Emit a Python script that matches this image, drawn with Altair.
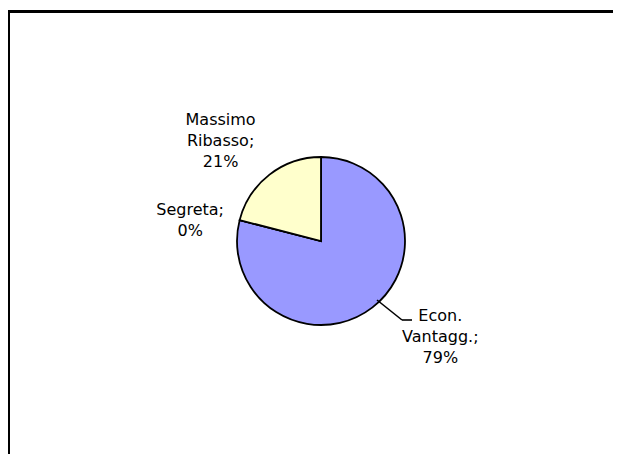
import altair as alt
import pandas as pd

# ---- data ----
categories = ["Econ. Vantagg.", "Segreta", "Massimo Ribasso"]
label_names = ["Econ.\nVantagg.;", "Segreta;", "Massimo\nRibasso;"]
percent = [79, 0, 21]
colors = ["#9999FF", "#993366", "#FFFFCC"]

df = pd.DataFrame({
    "cat": categories,
    "value": percent,
    "idx": list(range(len(categories))),
    "label": [f"{n}\n{p}%" for n, p in zip(label_names, percent)],
})
one = pd.DataFrame({"a": [0]})

# ---- layout ----
CX, CY = 313, 233
R = 84
FONT = "DejaVu Sans"
FS = 16

theta = alt.Theta("value:Q", stack=True)
order = alt.Order("idx:Q")

pie = alt.Chart(df).mark_arc(radius=R, stroke="black", strokeWidth=1.8).encode(
    theta=theta,
    order=order,
    color=alt.Color("cat:N", scale=alt.Scale(domain=categories, range=colors), legend=None),
    x=alt.value(CX),
    y=alt.value(CY),
)

label_pos = [(149, 28, -43), (132, -3, 1.5), (141, -14, -10)]
labels = []
for i, (rr, ddx, ddy) in enumerate(label_pos):
    labels.append(
        alt.Chart(df)
        .transform_calculate(lab=f"datum.idx == {i} ? datum.label : ''")
        .mark_text(radius=rr, dx=ddx, dy=ddy, font=FONT, fontSize=FS, lineHeight=21,
                   lineBreak="\n", align="center", baseline="middle", color="black")
        .encode(theta=theta, order=order, text="lab:N", x=alt.value(CX), y=alt.value(CY))
    )

leader1 = alt.Chart(one).mark_rule(color="black", strokeWidth=1.6).encode(
    x=alt.value(369), y=alt.value(292), x2=alt.value(394), y2=alt.value(312))
leader2 = alt.Chart(one).mark_rule(color="black", strokeWidth=1.6).encode(
    x=alt.value(394), y=alt.value(312), x2=alt.value(404), y2=alt.value(312))

border_top = alt.Chart(one).mark_rule(color="black", strokeWidth=3).encode(
    x=alt.value(0), y=alt.value(3.5), x2=alt.value(605), y2=alt.value(3.5))
border_left = alt.Chart(one).mark_rule(color="black", strokeWidth=3).encode(
    x=alt.value(0.5), y=alt.value(2), x2=alt.value(0.5), y2=alt.value(446))

chart = alt.layer(pie, *labels, leader1, leader2, border_top, border_left).properties(
    width=605, height=446, padding=0, background="white",
    autosize=alt.AutoSizeParams(type="none"),
).configure_view(strokeWidth=0)

chart.save("out.html", embed_options={"renderer": "svg", "actions": False})
